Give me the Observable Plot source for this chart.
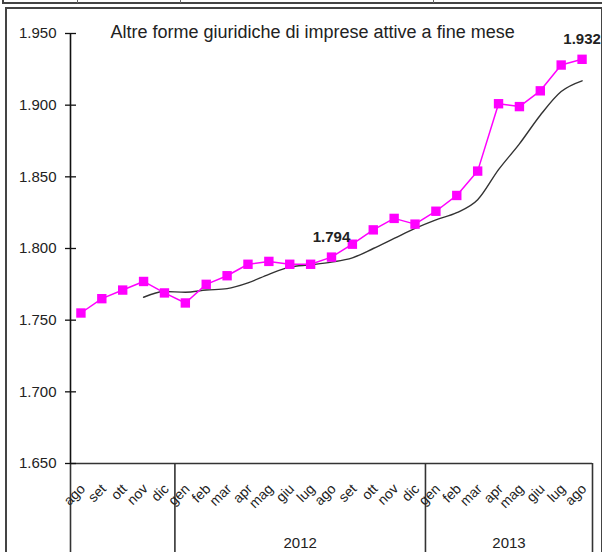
<!DOCTYPE html>
<html>
<head>
<meta charset="utf-8">
<script src="https://cdn.jsdelivr.net/npm/d3@7"></script>
<script src="https://cdn.jsdelivr.net/npm/@observablehq/plot@0.6"></script>
<style>
  html, body { margin: 0; padding: 0; background: #fff; overflow: hidden; }
  #wrap { position: relative; width: 602px; height: 552px; overflow: hidden; font-family: "Liberation Sans", Arial, sans-serif; }
  .prev { position: absolute; left: 2px; top: -10px; width: 640px; height: 12px; border-left: 2px solid #444; border-bottom: 2px solid #444; }
  .prevtick { position: absolute; top: 0; width: 1px; height: 3px; background: #666; }
  .frame { position: absolute; left: 5px; top: 7px; width: 594px; height: 600px; border: 2px solid #444; }
  #chart { position: absolute; left: 0; top: 0; }
</style>
</head>
<body>
<div id="wrap">
  <div class="prev"></div>
  <div class="prevtick" style="left:77px"></div>
  <div class="prevtick" style="left:180px"></div>
  <div class="prevtick" style="left:433px"></div>
  <div class="frame"></div>
  <div id="chart"></div>
</div>
<script>
const title = "Altre forme giuridiche di imprese attive a fine mese";
const months = ["ago","set","ott","nov","dic","gen","feb","mar","apr","mag","giu","lug","ago","set","ott","nov","dic","gen","feb","mar","apr","mag","giu","lug","ago"];
const imprese = [1755,1765,1771,1777,1769,1762,1775,1781,1789,1791,1789,1789,1794,1803,1813,1821,1817,1826,1837,1854,1901,1899,1910,1928,1932];
const media = [null,null,null,1766,1770,1769.5,1771,1772,1776,1782,1787,1788.6,1790.5,1793.5,1800,1807,1814,1820,1825,1834,1855,1873,1893,1909.5,1917];
const years = ["2012","2013"];
const yearStart = [5, 17];
const yearEnd = [16, 24];
const labelled = [12, 24];
const yTicks = [1650,1700,1750,1800,1850,1900,1950];

const it = d3.formatLocale({decimal: ",", thousands: ".", grouping: [3], currency: ["€", ""]});
const fmt = it.format(",d");

const rows = months.map((m, i) => ({i, m, v: imprese[i], a: media[i]}));
const avgRows = rows.filter(d => d.a != null);
const seps = [-0.5, yearStart[0] - 0.5, yearStart[1] - 0.5, months.length - 0.5];
const yearRows = years.map((y, k) => ({y, c: (yearStart[k] + yearEnd[k]) / 2}));
const labRows = labelled.map(i => rows[i]);

const chart = Plot.plot({
  width: 602,
  height: 552,
  marginLeft: 70,
  marginRight: 10,
  marginTop: 33,
  marginBottom: 89,
  style: {fontFamily: "'Liberation Sans', Arial, sans-serif", fontSize: "15px", background: "transparent", overflow: "visible", color: "#222"},
  x: {type: "linear", domain: [-0.5, months.length - 0.5], axis: null},
  y: {domain: [1650, 1950], axis: null},
  marks: [
    Plot.ruleX([-0.5], {stroke: "#111", strokeWidth: 1.6}),
    Plot.ruleY([1650], {stroke: "#333", strokeWidth: 1.6}),
    Plot.ruleX(seps, {x: d => d, y1: () => 1650, y2: () => 1650, insetBottom: -89, stroke: "#333", strokeWidth: 1.6}),
    Plot.axisY(yTicks, {tickSize: 5, tickPadding: 9, tickFormat: fmt, label: null, fill: "#222", fontSize: 15, stroke: "#111", strokeWidth: 1.3}),
    Plot.axisY(yTicks, {tickSize: 6, dx: 6, text: null, label: null, stroke: "#111", strokeWidth: 1.3}),
    Plot.text([title], {frameAnchor: "top-left", textAnchor: "start", lineAnchor: "middle", dx: 40, dy: -1, fontSize: 18, fill: "#222"}),
    Plot.line(avgRows, {x: "i", y: "a", stroke: "#333", strokeWidth: 1.4, curve: "monotone-x"}),
    Plot.line(rows, {x: "i", y: "v", stroke: "#ff00ff", strokeWidth: 1.5}),
    Plot.dot(rows, {x: "i", y: "v", symbol: "square", r: 5.3, fill: "#ff00ff", stroke: "none"}),
    Plot.text(labRows, {x: "i", y: "v", text: d => fmt(d.v), dy: -20, fontWeight: "bold", fontSize: 15, fill: "#222"}),
    Plot.text(rows, {x: "i", y: () => 1650, text: "m", rotate: -45, textAnchor: "end", lineAnchor: "middle", dx: 2, dy: 23, fontSize: 14, fill: "#222"}),
    Plot.text(yearRows, {x: "c", y: () => 1650, text: "y", dy: 80, fontSize: 15, fill: "#222"})
  ]
});
document.getElementById("chart").appendChild(chart);
</script>
</body>
</html>
